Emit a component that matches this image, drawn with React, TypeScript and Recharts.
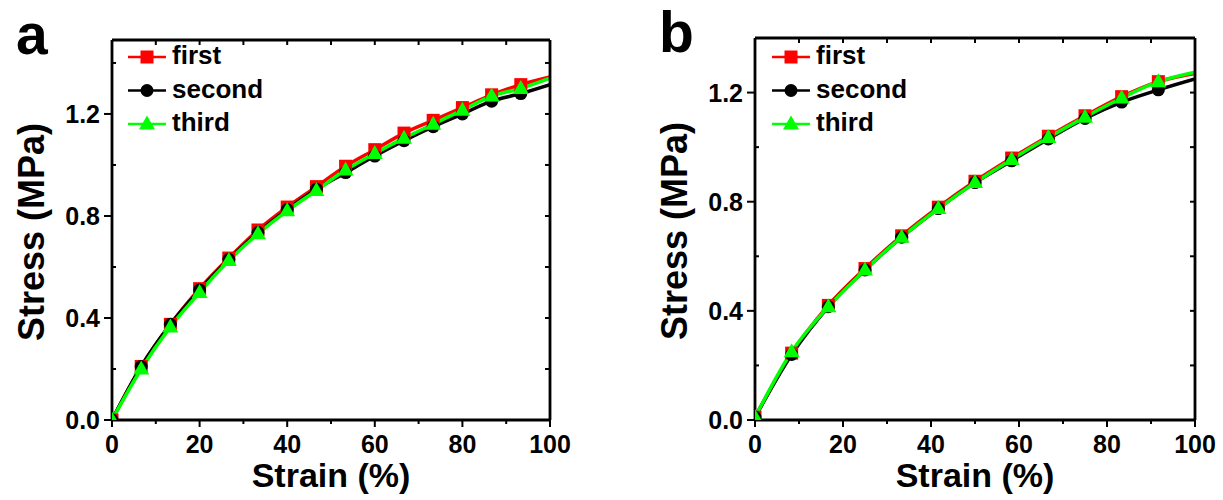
import React from 'react';
import { LineChart, Line, XAxis, YAxis, Legend } from 'recharts';

// panel a: markers every 1/15 of the strain range
const strainA = [0, 6.67, 13.33, 20, 26.67, 33.33, 40, 46.67, 53.33, 60, 66.67, 73.33, 80, 86.67, 93.33, 100];
const firstA = [0, 0.21, 0.375, 0.515, 0.635, 0.745, 0.835, 0.915, 0.995, 1.06, 1.125, 1.175, 1.225, 1.275, 1.315, 1.345];
const secondA = [0, 0.21, 0.375, 0.51, 0.63, 0.735, 0.825, 0.905, 0.97, 1.035, 1.095, 1.15, 1.2, 1.25, 1.28, 1.315];
const thirdA = [0, 0.2, 0.365, 0.5, 0.625, 0.73, 0.82, 0.9, 0.98, 1.045, 1.105, 1.16, 1.215, 1.27, 1.3, 1.34];

// panel b: markers every 1/12
const strainB = [0, 8.33, 16.67, 25, 33.33, 41.67, 50, 58.33, 66.67, 75, 83.33, 91.67, 100];
const firstB = [0.01, 0.245, 0.42, 0.555, 0.675, 0.78, 0.875, 0.96, 1.04, 1.115, 1.185, 1.24, 1.27];
const secondB = [0.01, 0.24, 0.415, 0.55, 0.67, 0.775, 0.87, 0.95, 1.03, 1.105, 1.165, 1.21, 1.25];
const thirdB = [0.01, 0.25, 0.415, 0.55, 0.67, 0.775, 0.87, 0.955, 1.035, 1.11, 1.18, 1.24, 1.275];

const xTicks = [0, 10, 20, 30, 40, 50, 60, 70, 80, 90, 100];
const xLabels = [0, 20, 40, 60, 80, 100];
const yTicks = [0, 0.2, 0.4, 0.6, 0.8, 1.0, 1.2, 1.4];
const yLabels = [0, 0.4, 0.8, 1.2];

const series = [
    { key: 'first', color: '#ff0000', shape: 'square' },
    { key: 'second', color: '#000000', shape: 'circle' },
    { key: 'third', color: '#00ff00', shape: 'triangle' },
];

const FONT = "'Liberation Sans', Arial, sans-serif";

const build = (strain: number[], a: number[], b: number[], c: number[]) =>
    strain.map((s, i) => ({ strain: s, first: a[i], second: b[i], third: c[i] }));

const Marker = ({ shape, cx, cy, color }: any) => {
    if (shape === 'square') return <rect x={cx - 6.5} y={cy - 6.5} width={13} height={13} fill={color} />;
    if (shape === 'circle') return <circle cx={cx} cy={cy} r={6.5} fill={color} />;
    return <polygon points={`${cx},${cy - 8.5} ${cx + 8},${cy + 5.5} ${cx - 8},${cy + 5.5}`} fill={color} />;
};

const BottomTick = ({ x, y, payload }: any) => {
    const major = xLabels.includes(payload.value);
    return (
        <g>
            <line x1={x} y1={y} x2={x} y2={y + (major ? 7 : 4)} stroke="#000" strokeWidth={2} />
            {major && (
                <text x={x} y={y + 33} textAnchor="middle" fontFamily={FONT} fontWeight="bold" fontSize={25} fill="#000">
                    {payload.value}
                </text>
            )}
        </g>
    );
};

const TopTick = ({ x, y }: any) => <line x1={x} y1={y} x2={x} y2={y + 5} stroke="#000" strokeWidth={2} />;

const LeftTick = ({ x, y, payload }: any) => {
    const major = yLabels.includes(payload.value);
    return (
        <g>
            {major ? (
                <line x1={x - 8} y1={y} x2={x} y2={y} stroke="#000" strokeWidth={2} />
            ) : (
                <line x1={x} y1={y} x2={x + 4} y2={y} stroke="#000" strokeWidth={2} />
            )}
            {major && (
                <text x={x - 12} y={y + 9} textAnchor="end" fontFamily={FONT} fontWeight="bold" fontSize={25} fill="#000">
                    {payload.value.toFixed(1)}
                </text>
            )}
        </g>
    );
};

const RightTick = ({ x, y }: any) => <line x1={x - 5} y1={y} x2={x} y2={y} stroke="#000" strokeWidth={2} />;

const LegendBox = () => (
    <svg width={180} height={110} style={{ display: 'block' }}>
        {series.map((s, i) => {
            const cy = 17 + i * 33.5;
            return (
                <g key={s.key}>
                    <line x1={0} x2={38} y1={cy} y2={cy} stroke={s.color} strokeWidth={2.5} />
                    <Marker shape={s.shape} cx={19} cy={cy} color={s.color} />
                    <text x={44} y={cy + 7} fontFamily={FONT} fontWeight="bold" fontSize={26} fill="#000">
                        {s.key}
                    </text>
                </g>
            );
        })}
    </svg>
);

interface PanelProps {
    data: any[];
    letter: string;
    yMax: number;
    left: number;
    width: number;
    margin: { top: number; right: number; bottom: number; left: number };
    legendLeft: number;
}

// axes get 1px of size, otherwise recharts skips drawing them
const Panel: React.FC<PanelProps> = ({ data, letter, yMax, left, width, margin, legendLeft }) => (
    <div style={{ position: 'absolute', left, top: 0 }}>
        <LineChart width={width} height={500} data={data} margin={margin}>
            <XAxis
                dataKey="strain"
                type="number"
                domain={[0, 100]}
                ticks={xTicks}
                interval={0}
                height={1}
                tickSize={0}
                tickMargin={0}
                tickLine={false}
                tick={BottomTick}
                axisLine={{ stroke: '#000', strokeWidth: 2.8 }}
                allowDataOverflow
                label={{ value: 'Strain (%)', position: 'bottom', offset: 42, fontFamily: FONT, fontWeight: 'bold', fontSize: 34, fill: '#000' }}
            />
            <XAxis
                xAxisId="top"
                orientation="top"
                dataKey="strain"
                type="number"
                domain={[0, 100]}
                ticks={xTicks}
                interval={0}
                height={1}
                tickSize={0}
                tickMargin={0}
                tickLine={false}
                tick={TopTick}
                axisLine={{ stroke: '#000', strokeWidth: 2.8 }}
                allowDataOverflow
                label={{
                    content: ({ viewBox }: any) => (
                        <text x={viewBox.x - 96} y={viewBox.y + 15} fontFamily={FONT} fontWeight="bold" fontSize={57} fill="#000">
                            {letter}
                        </text>
                    ),
                }}
            />
            <YAxis
                type="number"
                domain={[0, yMax]}
                ticks={yTicks}
                interval={0}
                width={1}
                tickSize={0}
                tickMargin={0}
                tickLine={false}
                tick={LeftTick}
                axisLine={{ stroke: '#000', strokeWidth: 2.8 }}
                allowDataOverflow
                label={{
                    content: ({ viewBox }: any) => {
                        const cx = viewBox.x + viewBox.width - 68;
                        const cy = viewBox.y + viewBox.height / 2 + 2;
                        return (
                            <text x={cx} y={cy} textAnchor="middle" transform={`rotate(-90, ${cx}, ${cy})`} fontFamily={FONT} fontWeight="bold" fontSize={36} fill="#000">
                                Stress (MPa)
                            </text>
                        );
                    },
                }}
            />
            <YAxis
                yAxisId="right"
                orientation="right"
                type="number"
                domain={[0, yMax]}
                ticks={yTicks}
                interval={0}
                width={1}
                tickSize={0}
                tickMargin={0}
                tickLine={false}
                tick={RightTick}
                axisLine={{ stroke: '#000', strokeWidth: 2.8 }}
                allowDataOverflow
            />
            <Legend
                layout="vertical"
                align="center"
                verticalAlign="middle"
                content={LegendBox}
                wrapperStyle={{ left: legendLeft, top: 40, width: 180, height: 110 }}
            />
            {series.map((s) => (
                <Line
                    key={s.key}
                    type="monotone"
                    dataKey={s.key}
                    stroke={s.color}
                    strokeWidth={3.5}
                    isAnimationActive={false}
                    dot={(p: any) =>
                        p.payload.strain >= 100 ? (
                            <g key={`d-${s.key}-${p.index}`} />
                        ) : (
                            <Marker key={`d-${s.key}-${p.index}`} shape={s.shape} cx={p.cx} cy={p.cy} color={s.color} />
                        )
                    }
                    activeDot={false}
                />
            ))}
        </LineChart>
    </div>
);

const dataA = build(strainA, firstA, secondA, thirdA);
const dataB = build(strainB, firstB, secondB, thirdB);

export default function App() {
    return (
        <div style={{ position: 'absolute', left: 0, top: 0, width: 1223, height: 500, background: '#fff' }}>
            <Panel data={dataA} letter="a" yMax={1.49} left={0} width={600} margin={{ top: 39, right: 49, bottom: 79, left: 111 }} legendLeft={128} />
            <Panel data={dataB} letter="b" yMax={1.4} left={640} width={583} margin={{ top: 37, right: 27, bottom: 79, left: 114 }} legendLeft={132} />
        </div>
    );
}
